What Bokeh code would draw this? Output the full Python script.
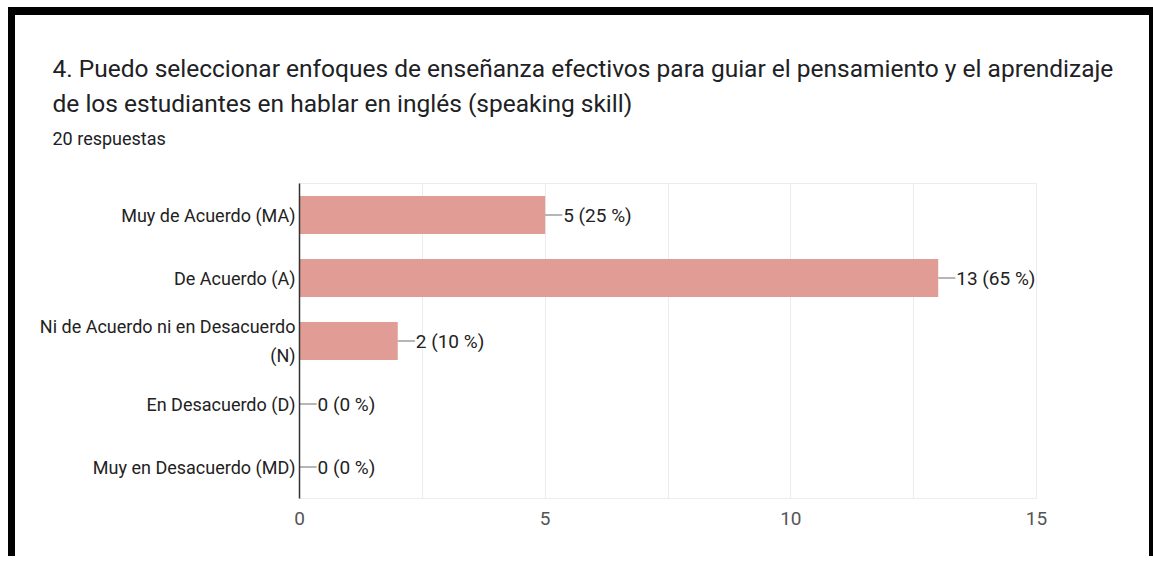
from bokeh.plotting import figure
from bokeh.models import FactorRange, Range1d, FixedTicker, Title, ColumnDataSource
from bokeh.layouts import column
from bokeh.embed import file_html
from bokeh.resources import INLINE
from bokeh.core.properties import value

# ---- data ----
categories = [
    "Muy de Acuerdo (MA)",
    "De Acuerdo (A)",
    "Ni de Acuerdo ni en Desacuerdo\n(N)",
    "En Desacuerdo (D)",
    "Muy en Desacuerdo (MD)",
]
counts = [5, 13, 2, 0, 0]
total = 20
x_ticks = [0, 5, 10, 15]
grid_ticks = [0, 2.5, 5, 7.5, 10, 12.5, 15]
title_line1 = "4. Puedo seleccionar enfoques de enseñanza efectivos para guiar el pensamiento y el aprendizaje"
title_line2 = "de los estudiantes en hablar en inglés (speaking skill)"
subtitle = "20 respuestas"

pcts = [round(c * 100 / total) for c in counts]
labels = [f"{c} ({p} %)" for c, p in zip(counts, pcts)]

FONT = "Roboto"

src = ColumnDataSource(dict(
    cat=categories,
    val=counts,
    lead=[c + 0.35 for c in counts],
    lab=labels,
))

W, H = 1134, 541
p = figure(
    width=W, height=H,
    y_range=FactorRange(factors=list(reversed(categories))),
    x_range=Range1d(0, 15),
    output_backend="svg", toolbar_location=None,
    min_border_left=284, min_border_right=113,
    min_border_top=168, min_border_bottom=58,
)
p.title.visible = False

p.hbar(y="cat", right="val", left=0, height=0.6, source=src,
       fill_color="#e19d95", line_color=None)
p.segment(x0="val", y0="cat", x1="lead", y1="cat", source=src,
          line_color="#9e9e9e", line_width=1.5)
p.text(x="val", y="cat", text="lab", source=src, x_offset=18,
       text_font=value(FONT), text_font_size="19px", text_color="#222222",
       text_baseline="middle", text_align="left")

# axes
p.xaxis.ticker = FixedTicker(ticks=x_ticks)
p.xaxis.axis_line_color = None
p.xaxis.major_tick_line_color = None
p.xaxis.minor_tick_line_color = None
p.xaxis.major_tick_out = 0
p.xaxis.major_tick_in = 0
p.xaxis.minor_tick_out = 0
p.xaxis.major_label_standoff = 13
p.xaxis.major_label_text_font = FONT
p.xaxis.major_label_text_font_size = "19px"
p.xaxis.major_label_text_color = "#555555"

p.yaxis.axis_line_color = "#333333"
p.yaxis.axis_line_width = 1.5
p.yaxis.major_tick_line_color = None
p.yaxis.minor_tick_line_color = None
p.yaxis.major_tick_out = 0
p.yaxis.major_tick_in = 0
p.yaxis.major_label_standoff = 4
p.yaxis.major_label_text_font = FONT
p.yaxis.major_label_text_font_size = "18px"
p.yaxis.major_label_text_color = "#222222"
p.yaxis.major_label_text_line_height = 1.4

p.xgrid.ticker = FixedTicker(ticks=grid_ticks)
p.xgrid.grid_line_color = "#ececec"
p.ygrid.grid_line_color = None
p.outline_line_color = "#ececec"

# titles: first added sits nearest the plot area (first one is a blank spacer)
for txt, size, standoff in [(" ", "10px", 13),
                            (subtitle, "18px", 17),
                            (title_line2, "24.5px", 0),
                            (title_line1, "24.5px", 8)]:
    p.add_layout(Title(text=txt, align="left", offset=-247,
                       text_font=FONT, text_font_size=size,
                       text_font_style="normal", text_color="#202124",
                       standoff=standoff), "above")

layout = column(p, styles={"margin-top": "7px", "margin-left": "8px",
                           "border-top": "8px solid black",
                           "border-left": "7px solid black",
                           "border-right": "4px solid black"})

open("out.html", "w").write(file_html(layout, INLINE))
